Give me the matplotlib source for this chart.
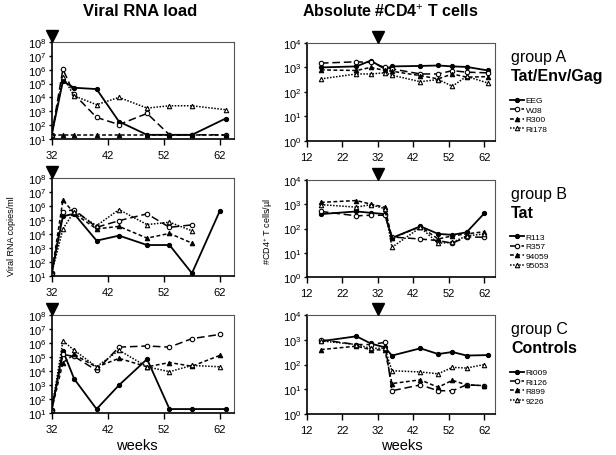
import numpy as np
import matplotlib
matplotlib.use("Agg")
import matplotlib.pyplot as plt
from matplotlib.legend_handler import HandlerLine2D

plt.rcParams['font.family'] = ['Liberation Sans', 'DejaVu Sans']
plt.rcParams['mathtext.fontset'] = 'custom'
plt.rcParams['mathtext.rm'] = 'Liberation Sans'
plt.rcParams['mathtext.it'] = 'Liberation Sans:italic'
plt.rcParams['mathtext.bf'] = 'Liberation Sans:bold'

# ---------------- data ----------------
vaccination_week = 32

# Viral RNA load (copies/ml)
rna_weeks = [32, 34, 36, 40, 44, 49, 53, 57, 63]
rna_weeks_b = [32, 34, 36, 40, 44, 49, 53, 57]
rna_weeks_62 = [32, 34, 36, 40, 44, 49, 53, 57, 62]

rna_EEG = [20, 1.5e5, 5e4, 4e4, 180, 20, 20, 20, 300]
rna_WJ8 = [20, 1.1e6, 1.7e4, 360, 110, 700, 20, 20, 20]
rna_R300 = [20, 20, 20, 20, 20, 20, 20, 20, 20]
rna_Ri178 = [20, 3e5, 1.3e4, 3e3, 1e4, 1.7e3, 2.5e3, 2.5e3, 1.3e3]

rna_R113 = [15, 1.9e5, 2.8e5, 3.3e3, 7.6e3, 1.6e3, 1.6e3, 15, 4.8e5]
rna_R357 = [15, 4e5, 5.6e5, 3e4, 9e4, 2.8e5, 3e4, 4.5e4]
rna_94059 = [15, 2.8e6, 3e5, 2.3e4, 3.5e4, 5e3, 1.1e4, 2.2e3]
rna_95053 = [15, 2.3e4, 4e5, 4e4, 5.6e5, 4.7e4, 7e4, 1.7e4]

rna_Ri009 = [18, 2.8e5, 2.8e3, 20, 1e3, 7e4, 20, 20, 20]
rna_Ri126 = [18, 1.5e5, 1.1e5, 1.1e4, 5e5, 6e5, 5e5, 2e6, 4e6]
rna_R899 = [18, 4e4, 1.5e5, 1.9e4, 8e4, 2e4, 4e4, 2.2e4, 1.3e5]
rna_9226 = [18, 1.4e6, 3e5, 2e4, 3e5, 2e4, 9e3, 2.5e4, 2e4]

# Absolute CD4+ T cells (cells/ul)
cd4_weeks = [16, 26, 30, 34, 36, 44, 49, 53, 57, 63]
cd4_weeks_62 = [16, 26, 30, 34, 36, 44, 49, 53, 57, 62]

cd4_EEG = [1000, 1100, 1900, 870, 1100, 1150, 1200, 1100, 1050, 750]
cd4_WJ8 = [1500, 1700, 1600, 1000, 870, 540, 540, 740, 640, 600]
cd4_R300 = [790, 750, 1000, 750, 700, 460, 340, 540, 400, 420]
cd4_Ri178 = [340, 540, 540, 600, 480, 260, 320, 170, 430, 230]

cd4_R113 = [390, 500, 440, 390, 41, 123, 60, 55, 70, 420]
cd4_R357 = [500, 330, 350, 350, 45, 37, 32, 25, 45, 44]
cd4_94059 = [1180, 1400, 1000, 740, 40, 120, 37, 50, 60, 74]
cd4_95053 = [950, 750, 950, 650, 17, 110, 25, 27, 50, 60]

cd4_Ri009 = [870, 1380, 710, 490, 230, 450, 265, 320, 230, 240]
cd4_Ri126 = [1000, 640, 640, 780, 8.7, 15, 8.7, 8.7, 15, 14]
cd4_R899 = [400, 550, 400, 380, 17, 24, 12, 23, 15, 14]
cd4_9226 = [900, 640, 450, 450, 56, 50, 42, 77, 72, 100]

groups = [
    dict(title="group A", sub="Tat/Env/Gag",
         names=["EEG", "WJ8", "R300", "Ri178"],
         rna=[(rna_weeks, rna_EEG), (rna_weeks, rna_WJ8), (rna_weeks, rna_R300), (rna_weeks, rna_Ri178)],
         cd4=[(cd4_weeks, cd4_EEG), (cd4_weeks, cd4_WJ8), (cd4_weeks, cd4_R300), (cd4_weeks, cd4_Ri178)]),
    dict(title="group B", sub="Tat",
         names=["R113", "R357", "94059", "95053"],
         rna=[(rna_weeks_62, rna_R113), (rna_weeks_b, rna_R357), (rna_weeks_b, rna_94059), (rna_weeks_b, rna_95053)],
         cd4=[(cd4_weeks_62, cd4_R113), (cd4_weeks_62, cd4_R357), (cd4_weeks_62, cd4_94059), (cd4_weeks_62, cd4_95053)]),
    dict(title="group C", sub="Controls",
         names=["Ri009", "Ri126", "R899", "9226"],
         rna=[(rna_weeks, rna_Ri009), (rna_weeks_62, rna_Ri126), (rna_weeks_62, rna_R899), (rna_weeks_62, rna_9226)],
         cd4=[(cd4_weeks, cd4_Ri009), (cd4_weeks_62, cd4_Ri126), (cd4_weeks_62, cd4_R899), (cd4_weeks_62, cd4_9226)]),
]

styles = [
    dict(ls='-', marker='o', mfc='black', lw=1.3, ms=3.0),
    dict(ls=(0, (5, 2.5)), marker='o', mfc='white', lw=1.1, ms=3.2),
    dict(ls=(0, (2.5, 1.6)), marker='^', mfc='black', lw=1.1, ms=3.2),
    dict(ls=(0, (1, 1)), marker='^', mfc='white', lw=1.1, ms=3.2),
]

W, H = 616, 456
fig = plt.figure(figsize=(W / 100, H / 100), dpi=100)


def rect(x0, y0, x1, y1):
    return [x0 / W, 1 - y1 / H, (x1 - x0) / W, (y1 - y0) / H]


left_rows = [(43, 140), (179.3, 276.7), (315.7, 414.3)]
right_rows = [(44, 141.7), (180.7, 278.3), (316, 415)]


def style_axes(ax):
    for s in ['left', 'bottom']:
        ax.spines[s].set_linewidth(1.2)
        ax.spines[s].set_color('black')
    for s in ['top', 'right']:
        ax.spines[s].set_linewidth(0.8)
        ax.spines[s].set_color('#555555')
    ax.tick_params(axis='both', which='major', direction='out', labelsize=8,
                   length=3, width=1, pad=2, top=False, right=False)
    ax.tick_params(axis='y', length=2, pad=2)
    ax.tick_params(axis='x', pad=4, length=4)
    ax.tick_params(which='minor', left=False, bottom=False)
    ax.plot([vaccination_week], [1.06], transform=ax.get_xaxis_transform(),
            marker='v', color='black', ms=8.5, clip_on=False, zorder=5)


class MarkerFirst(HandlerLine2D):
    def get_xdata(self, legend, xdescent, ydescent, width, height, fontsize):
        xdata = np.array([-xdescent, -xdescent + width])
        return xdata, np.array([-xdescent])


for i, g in enumerate(groups):
    # RNA panel
    y0, y1 = left_rows[i]
    ax = fig.add_axes(rect(51.7, y0, 234, y1))
    for (wk, vals), st in zip(g['rna'], styles):
        ax.plot(wk, vals, color='black', linestyle=st['ls'], marker=st['marker'],
                mfc=st['mfc'], mec='black', lw=st['lw'], ms=st['ms'], mew=0.8)
    ax.set_yscale('log')
    ax.set_ylim(10, 1e8)
    ax.set_xlim(32, 64.5)
    ax.set_xticks([32, 42, 52, 62])
    ax.set_yticks([10.0 ** k for k in range(1, 9)])
    ax.set_yticklabels([r'$10^{%d}$' % k for k in range(1, 9)])
    style_axes(ax)

    # CD4 panel
    y0, y1 = right_rows[i]
    ax2 = fig.add_axes(rect(306.7, y0, 495, y1))
    handles = []
    for (wk, vals), st, nm in zip(g['cd4'], styles, g['names']):
        ln, = ax2.plot(wk, vals, color='black', linestyle=st['ls'], marker=st['marker'],
                       mfc=st['mfc'], mec='black', lw=st['lw'], ms=st['ms'], mew=0.8,
                       label=nm)
        handles.append(ln)
    ax2.set_yscale('log')
    ax2.set_ylim(1, 1e4)
    ax2.set_xlim(12, 65)
    ax2.set_xticks([12, 22, 32, 42, 52, 62])
    ax2.set_yticks([10.0 ** k for k in range(0, 5)])
    ax2.set_yticklabels([r'$10^{%d}$' % k for k in range(0, 5)])
    style_axes(ax2)

    # group labels and legend
    fig.text(511 / W, 1 - (y0 + 6) / H, g['title'], fontsize=11.5, va='top', ha='left')
    fig.text(511 / W, 1 - (y0 + 25) / H, g['sub'], fontsize=11.5, fontweight='bold',
             va='top', ha='left')
    leg = fig.legend(handles=handles, loc='upper left',
                     bbox_to_anchor=(510 / W, 1 - (y0 + 54) / H),
                     frameon=False, fontsize=6, handlelength=1.7, handletextpad=0.2,
                     labelspacing=0.25, borderpad=0, borderaxespad=0,
                     handleheight=0.5,
                     handler_map={matplotlib.lines.Line2D: MarkerFirst()})

fig.text(140 / W, 1 - 12 / H, 'Viral RNA load', fontsize=12, fontweight='bold',
         ha='center', va='center')
fig.text(390 / W, 1 - 12 / H, r'Absolute #CD4$^{+}$ T cells', fontsize=11.5,
         fontweight='bold', ha='center', va='center')
fig.text(12 / W, 1 - 236 / H, 'Viral RNA copies/ml', fontsize=6.5, rotation=90,
         ha='center', va='center')
fig.text(268 / W, 1 - 232 / H, r'#CD4$^{+}$ T cells/µl', fontsize=6.5, rotation=90,
         ha='center', va='center')
fig.text(137 / W, 1 - 446 / H, 'weeks', fontsize=10.5, ha='center', va='center')
fig.text(402 / W, 1 - 446 / H, 'weeks', fontsize=10.5, ha='center', va='center')

fig.savefig('out.png', dpi=100)
